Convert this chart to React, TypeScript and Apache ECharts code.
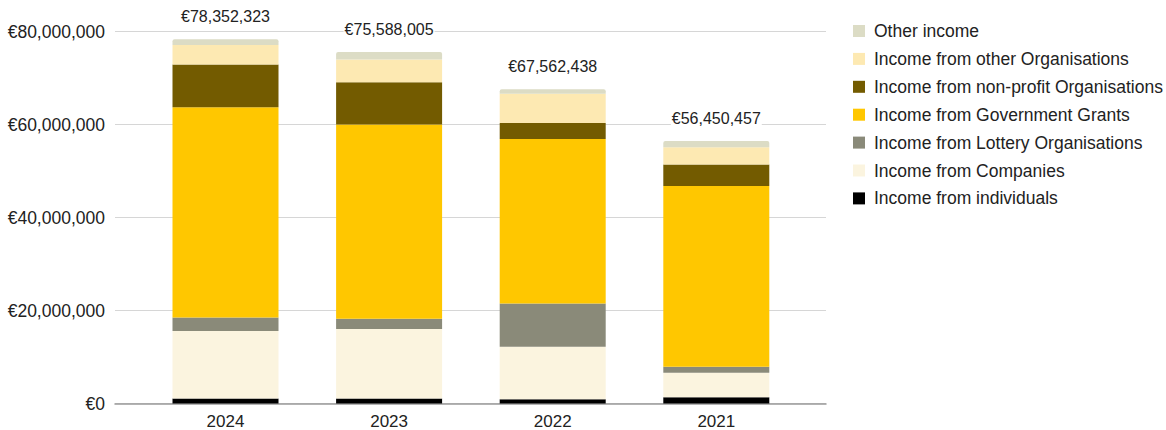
import React, { useEffect, useRef } from "react";
import * as echarts from "echarts";

const years = ["2024", "2023", "2022", "2021"];
const totals = [78352323, 75588005, 67562438, 56450457];

const individuals = [1100000, 1100000, 900000, 1350000];
const companies = [14500000, 14900000, 11300000, 5250000];
const lottery = [2900000, 2200000, 9300000, 1300000];
const government = [45200000, 41800000, 35400000, 38900000];
const nonProfit = [9200000, 9100000, 3400000, 4600000];
const otherOrgs = [4200000, 4900000, 6300000, 3700000];
const otherIncome = [1252323, 1588005, 962438, 1350457];

const yTicks = [0, 20000000, 40000000, 60000000, 80000000];

const seriesDefs = [
  { name: "Income from individuals", data: individuals, color: "#000000" },
  { name: "Income from Companies", data: companies, color: "#fbf4df" },
  { name: "Income from Lottery Organisations", data: lottery, color: "#8a8a79" },
  { name: "Income from Government Grants", data: government, color: "#ffc700" },
  { name: "Income from non-profit Organisations", data: nonProfit, color: "#735b00" },
  { name: "Income from other Organisations", data: otherOrgs, color: "#fde9b2" },
  { name: "Other income", data: otherIncome, color: "#dcdcc5" },
];

const euro = (v: number) => "€" + Math.round(v).toLocaleString("en-US");
const FONT = "'Liberation Sans', Arial, Helvetica, sans-serif";

export default function App() {
  const ref = useRef<HTMLDivElement>(null);
  useEffect(() => {
    if (!ref.current) return;
    const chart = echarts.init(ref.current, undefined, { renderer: "svg" });
    const yMin = yTicks[0];
    const yMax = yTicks[yTicks.length - 1];
    const yInt = yTicks[1] - yTicks[0];
    const series: any[] = seriesDefs.map((s, i) => {
      const isTop = i === seriesDefs.length - 1;
      return {
        name: s.name,
        type: "bar",
        stack: "total",
        xAxisIndex: 0,
        yAxisIndex: 0,
        barWidth: 106,
        data: s.data,
        itemStyle: {
          color: s.color,
          borderRadius: isTop ? [2, 2, 0, 0] : 0,
        },
        label: isTop
          ? {
              show: true,
              position: "top",
              distance: 15,
              formatter: (p: any) => euro(totals[p.dataIndex]),
              fontFamily: FONT,
              fontSize: 16,
              color: "#222",
              backgroundColor: "#fff",
              padding: [0, 1],
            }
          : { show: false },
      };
    });
    chart.setOption({
      animation: false,
      textStyle: { fontFamily: FONT },
      grid: [
        { left: 143.7, right: 367.9, top: 31.5, bottom: 26.5, containLabel: false },
        { left: 115, right: 340, top: 31.5, bottom: 26.5, containLabel: false },
      ],
      xAxis: [
        {
          type: "category",
          gridIndex: 0,
          data: years,
          axisLine: { show: false },
          axisTick: { show: false },
          axisLabel: { fontSize: 17, color: "#222", margin: 9, fontFamily: FONT },
        },
        {
          type: "value",
          gridIndex: 1,
          min: 0,
          max: 1,
          axisLine: { show: true, lineStyle: { color: "#9a9a9a", width: 1.5 } },
          axisTick: { show: false },
          axisLabel: { show: false },
          splitLine: { show: false },
        },
      ],
      yAxis: [
        {
          type: "value",
          gridIndex: 0,
          min: yMin,
          max: yMax,
          interval: yInt,
          axisLine: { show: false },
          axisTick: { show: false },
          axisLabel: { show: false },
          splitLine: { show: false },
        },
        {
          type: "value",
          gridIndex: 1,
          min: yMin,
          max: yMax,
          interval: yInt,
          axisLine: { show: false },
          axisTick: { show: false },
          axisLabel: {
            fontSize: 17.5,
            color: "#222",
            margin: 10,
            fontFamily: FONT,
            formatter: (v: number) => euro(v),
          },
          splitLine: { show: true, lineStyle: { color: "#d6d6d6", width: 1 } },
        },
      ],
      legend: {
        orient: "vertical",
        left: 848,
        top: 16,
        itemWidth: 12,
        itemHeight: 12,
        itemGap: 7.9,
        icon: "rect",
        data: seriesDefs.map((s) => s.name).reverse(),
        textStyle: {
          fontSize: 17.5,
          color: "#222",
          fontFamily: FONT,
          lineHeight: 20,
          padding: [0, 0, 0, 4],
        },
      },
      series,
    });
    return () => chart.dispose();
  }, []);
  return (
    <div
      ref={ref}
      style={{ position: "absolute", left: 0, top: 0, width: 1166, height: 430, background: "#fff" }}
    />
  );
}
